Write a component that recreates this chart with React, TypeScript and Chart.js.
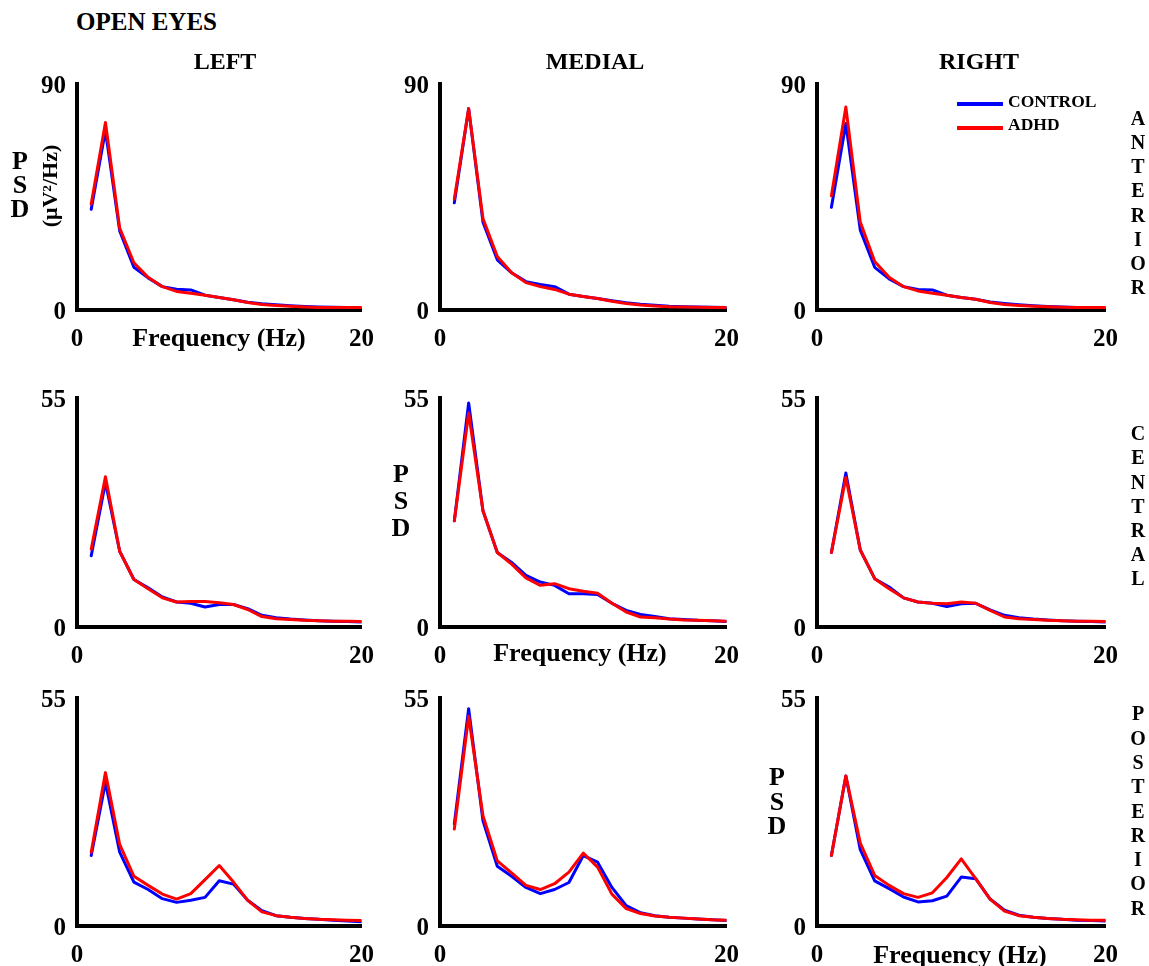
import React, { useEffect, useRef } from 'react';
import { Chart, registerables } from 'chart.js';

Chart.register(...registerables);

const FONT = "'Liberation Serif', 'Times New Roman', Times, serif";

// Frequency bins (Hz)
const FREQ = [1, 2, 3, 4, 5, 6, 7, 8, 9, 10, 11, 12, 13, 14, 15, 16, 17, 18, 19, 20];
const X_TICKS = [0, 20];
const Y_MAX_ANTERIOR = 90;
const Y_MAX_OTHER = 55;

// ANTERIOR
const ANT_LEFT_CONTROL = [40.1, 71.5, 31.5, 17.0, 12.8, 9.3, 8.3, 8.0, 5.9, 5.0, 4.1, 3.1, 2.5, 2.1, 1.7, 1.4, 1.2, 1.1, 1.0, 1.0];
const ANT_LEFT_ADHD = [42.2, 74.7, 32.6, 18.8, 13.0, 9.3, 7.4, 6.7, 5.9, 5.0, 4.1, 3.0, 2.2, 1.8, 1.5, 1.2, 1.0, 1.0, 1.0, 1.0];
const ANT_MED_CONTROL = [42.7, 80.2, 35.0, 20.0, 14.8, 11.3, 10.2, 9.3, 6.3, 5.4, 4.6, 3.7, 2.9, 2.3, 1.9, 1.5, 1.3, 1.2, 1.1, 1.0];
const ANT_MED_ADHD = [44.2, 80.2, 36.4, 21.3, 14.8, 10.9, 9.3, 8.2, 6.3, 5.4, 4.6, 3.5, 2.6, 2.0, 1.6, 1.3, 1.2, 1.1, 1.0, 1.0];
const ANT_RIGHT_CONTROL = [40.9, 74.3, 31.8, 17.0, 12.4, 9.3, 8.2, 8.0, 5.9, 5.0, 4.3, 3.2, 2.6, 2.1, 1.7, 1.4, 1.2, 1.0, 1.0, 1.0];
const ANT_RIGHT_ADHD = [45.5, 80.8, 35.0, 19.3, 13.0, 9.3, 7.6, 6.7, 5.9, 5.0, 4.3, 3.0, 2.2, 1.8, 1.5, 1.3, 1.1, 1.0, 1.0, 1.0];

// CENTRAL
const CEN_LEFT_CONTROL = [17.1, 34.7, 18.2, 11.4, 9.4, 7.2, 6.0, 5.7, 4.8, 5.4, 5.4, 4.4, 2.8, 2.2, 1.9, 1.7, 1.5, 1.4, 1.3, 1.2];
const CEN_LEFT_ADHD = [18.7, 36.1, 18.2, 11.4, 9.2, 7.0, 6.0, 6.1, 6.1, 5.8, 5.4, 4.2, 2.5, 2.0, 1.8, 1.6, 1.5, 1.4, 1.4, 1.3];
const CEN_MED_CONTROL = [25.5, 53.8, 27.9, 17.9, 15.5, 12.4, 10.8, 10.0, 8.0, 8.0, 7.8, 5.7, 4.0, 3.0, 2.5, 2.0, 1.8, 1.6, 1.5, 1.3];
const CEN_MED_ADHD = [25.5, 51.4, 27.9, 17.9, 15.1, 11.8, 10.0, 10.4, 9.2, 8.6, 8.1, 5.7, 3.6, 2.4, 2.2, 1.9, 1.7, 1.6, 1.5, 1.4];
const CEN_RIGHT_CONTROL = [17.9, 37.0, 18.5, 11.6, 9.6, 7.0, 6.0, 5.7, 4.9, 5.6, 5.7, 4.1, 2.8, 2.2, 1.9, 1.7, 1.5, 1.4, 1.3, 1.2];
const CEN_RIGHT_ADHD = [17.9, 35.9, 18.5, 11.6, 9.2, 7.0, 6.0, 5.7, 5.6, 6.0, 5.7, 4.0, 2.4, 2.0, 1.8, 1.6, 1.5, 1.4, 1.4, 1.3];

// POSTERIOR
const POS_LEFT_CONTROL = [17.0, 34.6, 17.8, 10.6, 8.8, 6.6, 5.7, 6.2, 6.9, 10.9, 10.1, 6.2, 3.7, 2.5, 2.1, 1.8, 1.6, 1.4, 1.2, 1.0];
const POS_LEFT_ADHD = [17.8, 37.0, 19.7, 12.0, 9.8, 7.7, 6.5, 7.8, 11.2, 14.6, 10.6, 6.2, 3.4, 2.5, 2.1, 1.8, 1.6, 1.5, 1.4, 1.3];
const POS_MED_CONTROL = [24.6, 52.4, 25.4, 14.4, 12.0, 9.3, 7.8, 8.8, 10.5, 17.0, 15.4, 9.3, 4.9, 3.2, 2.5, 2.1, 1.9, 1.7, 1.5, 1.3];
const POS_MED_ADHD = [23.4, 50.6, 26.6, 15.7, 12.8, 9.8, 8.8, 10.2, 13.0, 17.6, 14.2, 7.7, 4.2, 3.0, 2.4, 2.1, 1.9, 1.7, 1.5, 1.4];
const POS_RIGHT_CONTROL = [17.0, 36.2, 18.4, 10.9, 9.0, 7.0, 5.8, 6.1, 7.2, 11.8, 11.4, 6.5, 3.8, 2.6, 2.1, 1.8, 1.6, 1.4, 1.3, 1.2];
const POS_RIGHT_ADHD = [17.0, 36.2, 20.0, 12.2, 9.8, 7.8, 6.9, 8.0, 11.7, 16.2, 11.4, 6.5, 3.6, 2.5, 2.1, 1.8, 1.6, 1.5, 1.4, 1.4];

const COL_X = [[77, 364], [440, 729], [817, 1108]];
const ROW_Y = [[83, 310], [397, 627], [697, 926]];

type PanelProps = {
  x0: number; x20: number; yTop: number; yBot: number; yMax: number;
  control: number[]; adhd: number[];
};

function Panel({ x0, x20, yTop, yBot, yMax, control, adhd }: PanelProps) {
  const ref = useRef<HTMLCanvasElement | null>(null);
  const PL = 70, PT = 25, PR = 25, PB = 50;
  const w = x20 - x0 + PL + PR;
  const h = yBot - yTop + PT + PB;
  useEffect(() => {
    const tickFont = { family: FONT, size: 25, weight: 'bold' as const };
    const chart = new Chart(ref.current as HTMLCanvasElement, {
      type: 'line',
      data: {
        datasets: [
          {
            label: 'ADHD',
            data: FREQ.map((f, i) => ({ x: f, y: adhd[i] })),
            borderColor: '#ff0000', backgroundColor: '#ff0000',
            borderWidth: 3, pointRadius: 0, tension: 0, order: 1,
            borderJoinStyle: 'round', borderCapStyle: 'round',
          },
          {
            label: 'CONTROL',
            data: FREQ.map((f, i) => ({ x: f, y: control[i] })),
            borderColor: '#0000ff', backgroundColor: '#0000ff',
            borderWidth: 3, pointRadius: 0, tension: 0, order: 2,
            borderJoinStyle: 'round', borderCapStyle: 'round',
          },
        ],
      },
      options: {
        animation: false,
        responsive: false,
        devicePixelRatio: 1,
        layout: { padding: { left: 0, top: PT, right: PR, bottom: 0 } },
        plugins: { legend: { display: false }, tooltip: { enabled: false } },
        scales: {
          x: {
            type: 'linear', min: 0, max: 20,
            grid: { display: false, drawTicks: false },
            border: { display: true, color: '#000', width: 4 },
            ticks: { font: tickFont, color: '#000', padding: 15, autoSkip: false, maxRotation: 0 },
            afterBuildTicks: (s: any) => { s.ticks = X_TICKS.map((v) => ({ value: v })); },
            afterFit: (s: any) => { s.height = PB; },
          },
          y: {
            type: 'linear', min: 0, max: yMax,
            grid: { display: false, drawTicks: false },
            border: { display: true, color: '#000', width: 4 },
            ticks: { font: tickFont, color: '#000', padding: 11, autoSkip: false, labelOffset: 3 },
            afterBuildTicks: (s: any) => { s.ticks = [0, yMax].map((v) => ({ value: v })); },
            afterFit: (s: any) => { s.width = PL; },
          },
        },
      },
    });
    return () => chart.destroy();
  }, []);
  return (
    <canvas
      ref={ref}
      width={w}
      height={h}
      style={{ position: 'absolute', left: x0 - PL, top: yTop - PT, width: w, height: h }}
    />
  );
}

function T({ text, cx, cy, size, align = 'center' }: { text: string; cx: number; cy: number; size: number; align?: string }) {
  const style: any = {
    position: 'absolute', top: cy - size / 2, fontFamily: FONT, fontWeight: 'bold',
    fontSize: size, lineHeight: size + 'px', color: '#000', whiteSpace: 'nowrap',
  };
  if (align === 'left') {
    style.left = cx;
  } else {
    style.left = cx - 150; style.width = 300; style.textAlign = 'center';
  }
  return <div style={style}>{text}</div>;
}

function Stack({ text, cx, cy0, step, size }: { text: string; cx: number; cy0: number; step: number; size: number }) {
  return (
    <>
      {text.split('').map((ch, i) => (
        <T key={i} text={ch} cx={cx} cy={cy0 + i * step} size={size} />
      ))}
    </>
  );
}

const PANELS = [
  [ANT_LEFT_CONTROL, ANT_LEFT_ADHD, ANT_MED_CONTROL, ANT_MED_ADHD, ANT_RIGHT_CONTROL, ANT_RIGHT_ADHD],
  [CEN_LEFT_CONTROL, CEN_LEFT_ADHD, CEN_MED_CONTROL, CEN_MED_ADHD, CEN_RIGHT_CONTROL, CEN_RIGHT_ADHD],
  [POS_LEFT_CONTROL, POS_LEFT_ADHD, POS_MED_CONTROL, POS_MED_ADHD, POS_RIGHT_CONTROL, POS_RIGHT_ADHD],
];

export default function App() {
  return (
    <div style={{ position: 'absolute', left: 0, top: 0, width: 1149, height: 966, background: '#fff', overflow: 'hidden' }}>
      {PANELS.map((row, r) =>
        [0, 1, 2].map((c) => (
          <Panel
            key={`${r}-${c}`}
            x0={COL_X[c][0]} x20={COL_X[c][1]}
            yTop={ROW_Y[r][0]} yBot={ROW_Y[r][1]}
            yMax={r === 0 ? Y_MAX_ANTERIOR : Y_MAX_OTHER}
            control={row[c * 2]} adhd={row[c * 2 + 1]}
          />
        ))
      )}

      <T text="OPEN EYES" cx={76} cy={21} size={25} align="left" />
      <T text="LEFT" cx={225} cy={61} size={24} />
      <T text="MEDIAL" cx={595} cy={61} size={24} />
      <T text="RIGHT" cx={979} cy={61} size={24} />

      <T text="Frequency (Hz)" cx={219} cy={338} size={26} />
      <T text="Frequency (Hz)" cx={580} cy={653} size={26} />
      <T text="Frequency (Hz)" cx={960} cy={955} size={26} />

      <Stack text="PSD" cx={20} cy0={161} step={24} size={26} />
      <Stack text="PSD" cx={401} cy0={474} step={27} size={26} />
      <Stack text="PSD" cx={777} cy0={777} step={24.5} size={26} />

      <div
        style={{
          position: 'absolute', left: 50 - 100, top: 186 - 11, width: 200, textAlign: 'center',
          fontFamily: FONT, fontWeight: 'bold', fontSize: 22, lineHeight: '22px', color: '#000',
          transform: 'rotate(-90deg)', transformOrigin: '50% 50%', whiteSpace: 'nowrap',
        }}
      >
        (μV²/Hz)
      </div>

      <Stack text="ANTERIOR" cx={1138} cy0={118.3} step={24.06} size={20} />
      <Stack text="CENTRAL" cx={1138} cy0={433.3} step={24.1} size={20} />
      <Stack text="POSTERIOR" cx={1138} cy0={713.3} step={24.3} size={20} />

      <div style={{ position: 'absolute', left: 957, top: 102, width: 46, height: 4, background: '#0000ff' }} />
      <div style={{ position: 'absolute', left: 957, top: 126, width: 46, height: 4, background: '#ff0000' }} />
      <T text="CONTROL" cx={1008} cy={101.5} size={17.5} align="left" />
      <T text="ADHD" cx={1008} cy={124.7} size={17.5} align="left" />
    </div>
  );
}
